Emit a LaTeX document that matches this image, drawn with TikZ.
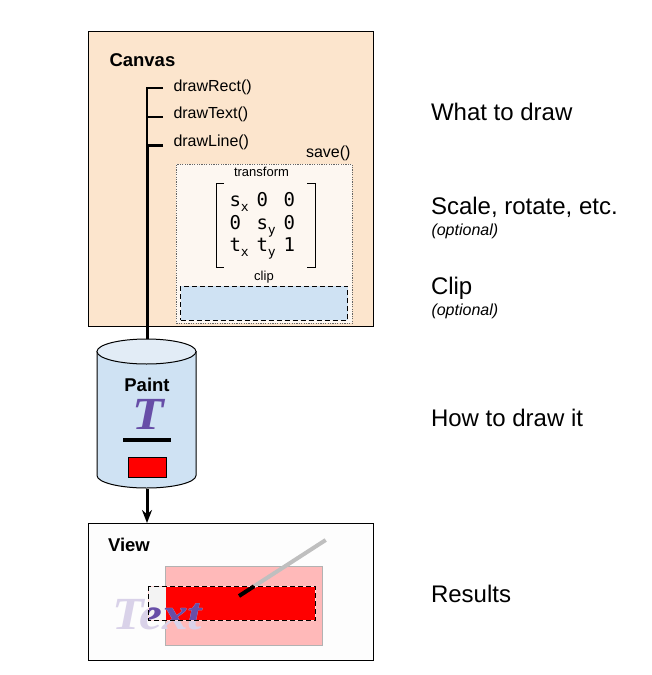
\documentclass[tikz,border=0pt]{standalone}
\usepackage{fontspec}
\setmainfont{Liberation Sans}
\newfontfamily\matrixfont{DejaVu Sans Mono}
\newfontfamily\glyphfont{Liberation Serif}
\definecolor{canvasbg}{HTML}{FCE5CD}
\definecolor{savebg}{HTML}{FDF7F1}
\definecolor{clipblue}{HTML}{CFE2F3}
\definecolor{capblue}{HTML}{E2ECF6}
\definecolor{viewbg}{HTML}{FDFDFD}
\definecolor{glyph}{HTML}{674EA7}
\definecolor{glyphfade}{HTML}{D9D2E9}
\definecolor{pinkbg}{HTML}{FFB9B9}
\definecolor{emptyclip}{HTML}{F3F3F3}
\usetikzlibrary{arrows.meta,positioning,calc}
\newcommand{\fpx}[1]{\fontsize{#1pt}{#1pt}\selectfont}
\newcommand{\subx}[1]{{\fpx{13}\raisebox{-5pt}{#1}}}
\newcommand{\wideglyph}[1]{\scalebox{1.12}[1]{#1}}

\begin{document}
\begin{tikzpicture}[x=1pt, y=-1pt, >=Stealth, line width=1pt,
    boxlabel/.style={anchor=base west, inner sep=0pt, font=\fpx{18.5}\bfseries},
    methodlabel/.style={anchor=base west, inner sep=0pt, inner xsep=10pt, font=\fpx{16}},
    smalllabel/.style={anchor=base, inner sep=0pt, font=\fpx{13}},
    sidelabel/.style={anchor=base west, inner sep=0pt, font=\fpx{24}},
    optlabel/.style={anchor=base west, inner sep=0pt, font=\fpx{16}\itshape},
    cell/.style={anchor=base west, inner sep=0pt, font=\fpx{19}\matrixfont},
    bigglyph/.style={inner sep=0pt, font=\fpx{46}\glyphfont\bfseries\itshape},
    longdash/.style={dash pattern=on 5pt off 3pt}]
  \useasboundingbox (0,0) rectangle (652,675);

  % Canvas
  \node[draw=black, fill=canvasbg, anchor=north west, inner sep=0pt, minimum width=284.5pt, minimum height=295pt] (canvas) at (88,31) {};
  \node[boxlabel] (canvaslabel) at (109,66) {Canvas};
  \node[methodlabel] (drawrect) at (163,91.5) {drawRect()};
  \node[methodlabel] (drawtext) at (163,118.5) {drawText()};
  \node[methodlabel] (drawline) at (163,146.5) {drawLine()};

  % Save layer
  \node[draw=black!60, line width=0.8pt, dash pattern=on 1.2pt off 1.2pt, fill=savebg, anchor=north west, inner sep=0pt, minimum width=176pt, minimum height=159pt] (savebox) at (176,164) {};
  \node[anchor=base east, inner sep=0pt, font=\fpx{16}] (savelabel) at (351,157.5) {save()};
  \node[smalllabel] (transformlabel) at (261.5,176.5) {transform};
  \node[smalllabel] (cliplabel) at (264,280) {clip};
  \node[draw=black, longdash, fill=clipblue, anchor=north west, inner sep=0pt, minimum width=167pt, minimum height=34pt] (clipbox) at (180,285.5) {};

  % Matrix
  \foreach \cx/\cy/\txt in {229/206.5/s\subx{x}, 256/206.5/0, 283/206.5/0,
                            229/229/0, 256/229/s\subx{y}, 283/229/0,
                            229/251/t\subx{x}, 256/251/t\subx{y}, 283/251/1}
    \node[cell] at (\cx,\cy) {\txt};
  \draw (224,183) -| (216.5,267) -- (224,267);
  \draw (307,183) -| (315,267) -- (307,267);

  % Paint
  \node[inner sep=0pt, minimum width=99pt, minimum height=149pt] (paint) at (147,413.5) {};
  \draw[line width=1.5pt] ([yshift=-0.5pt]drawrect.west) -| (147,116);
  \draw[line width=2pt] ([yshift=-3pt]drawtext.west) -| (147,144);
  \draw[line width=3pt] ([yshift=-3pt]drawline.west) -| (paint.north);
  \draw[fill=clipblue] (97,351.5) -- (97,475.5) arc[start angle=180, end angle=0, x radius=49.5, y radius=12.5] -- (196,351.5) -- cycle;
  \draw[fill=capblue] (146.5,351.5) ellipse[x radius=49.5, y radius=12.5];
  \node[anchor=base, inner sep=0pt, font=\fpx{18.5}\bfseries] (paintlabel) at (147,391) {Paint};
  \node[bigglyph, text=glyph, anchor=base] (paintglyph) at (148,429) {\wideglyph{T}};
  \node[fill=black, inner sep=0pt, minimum width=47.5pt, minimum height=3.5pt] (paintstroke) at (147,440) {};
  \node[draw=black, fill=red, anchor=north west, inner sep=0pt, minimum width=37.5pt, minimum height=20pt] (paintfill) at (128,456.5) {};

  % View
  \node[draw=black, fill=viewbg, anchor=north west, inner sep=0pt, minimum width=284.5pt, minimum height=137pt] (view) at (88,523) {};
  \draw[line width=3pt, -{Stealth[length=13pt,width=10pt]}] (paint.south) -- (view.north -| paint.south);
  \node[boxlabel] (viewlabel) at (107.5,551.5) {View};
  \node[draw=black!30, fill=pinkbg, anchor=north west, inner sep=0pt, minimum width=156.5pt, minimum height=79pt] (pinkrect) at (165,566.3) {};
  \node[fill=emptyclip, anchor=north west, inner sep=0pt, minimum width=17pt, minimum height=34pt] (cliphole) at (148,586.3) {};
  \node[fill=red, anchor=north west, inner sep=0pt, minimum width=150.4pt, minimum height=34pt] (cliprect) at (165,586.3) {};
  \node[bigglyph, text=glyphfade, anchor=base west] (fadetext) at (112,629) {\wideglyph{Text}};
  \begin{scope}
    \clip (148,586.3) rectangle (315.5,620.3);
    \node[bigglyph, text=glyph, anchor=base west] (cliptext) at (112,629) {\wideglyph{Text}};
  \end{scope}
  \coordinate (linefar) at (325.7,540);
  \coordinate (lineclip) at (254,586.3);
  \coordinate (linenear) at (239,596);
  \draw[line width=4pt, black!25] (linefar) -- (lineclip);
  \draw[line width=4pt, black] (lineclip) -- (linenear);
  \draw[white!85!red] (148,586.3) rectangle (315.5,620.3);
  \draw[longdash] (148,586.3) rectangle (315.5,620.3);

  % Side captions
  \node[sidelabel] (whatlabel) at (430.5,120) {What to draw};
  \node[sidelabel] (scalelabel) at (430.5,214) {Scale, rotate, etc.};
  \node[optlabel] (scaleopt) at (431,235) {(optional)};
  \node[sidelabel] (cliptitle) at (430.5,294) {Clip};
  \node[optlabel] (clipopt) at (431,315) {(optional)};
  \node[sidelabel] (howlabel) at (430.5,426) {How to draw it};
  \node[sidelabel] (resultslabel) at (430.5,602) {Results};
\end{tikzpicture}
\end{document}
